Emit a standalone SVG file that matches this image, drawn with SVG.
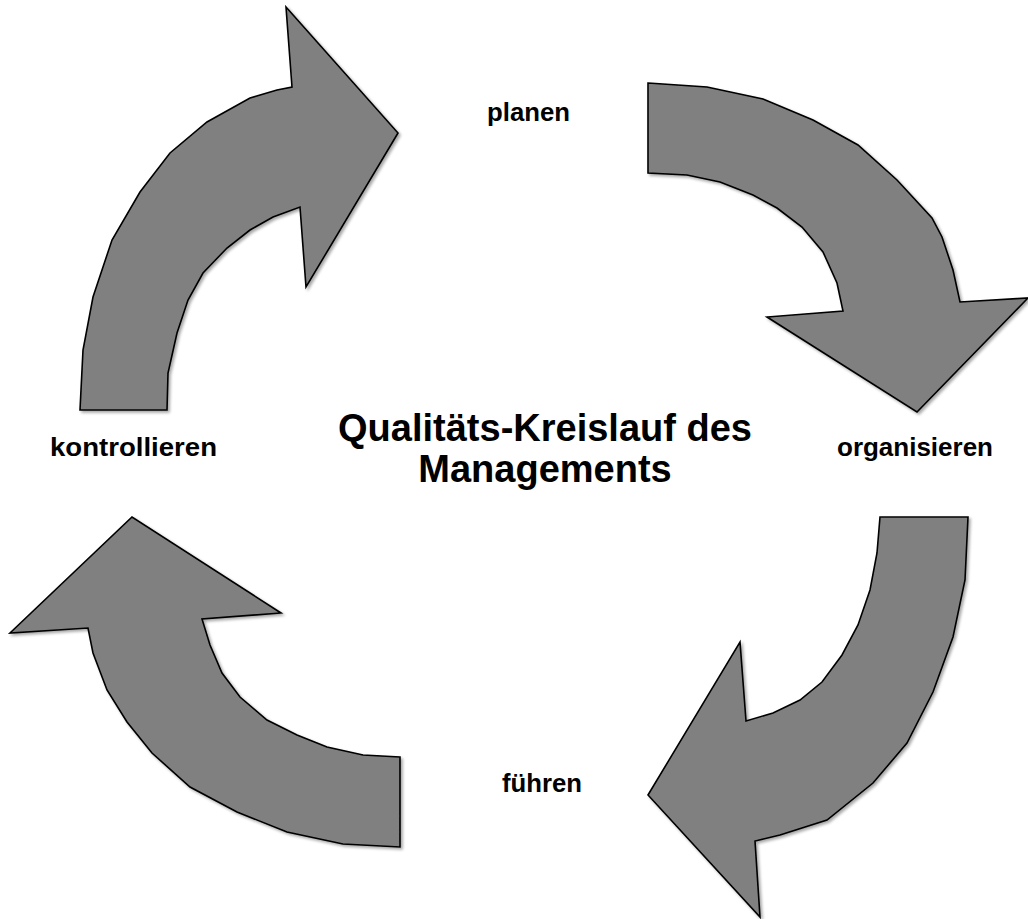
<svg xmlns="http://www.w3.org/2000/svg" width="1028" height="919" viewBox="0 0 1028 919">
  <defs>
    <filter id="soft-shadow" x="-10%" y="-10%" width="120%" height="120%">
      <feGaussianBlur in="SourceAlpha" stdDeviation="1.5"/>
      <feOffset dx="2" dy="2" result="blur"/>
      <feComponentTransfer><feFuncA type="linear" slope="0.35"/></feComponentTransfer>
      <feMerge><feMergeNode/><feMergeNode in="SourceGraphic"/></feMerge>
    </filter>
  </defs>
  <style>
    .arrow { fill: #808080; stroke: #000; stroke-width: 1.6; stroke-linejoin: miter; filter: url(#soft-shadow); }
    .label { font-family: "Liberation Sans", Arial, sans-serif; font-weight: bold; font-size: 26px; fill: #000; }
    .title { font-family: "Liberation Sans", Arial, sans-serif; font-weight: bold; font-size: 38px; fill: #000; text-anchor: middle; }
  </style>
  <rect width="1028" height="919" fill="#fff"/>

  <!-- curved arrows of the cycle -->
  <g id="connectors">
    <!-- kontrollieren -> planen -->
    <polygon class="arrow" points="80,410 83,350 93,297 112,240 140,192 170,153 207,122 250,98 277,90 292,87 286,7 398,133 306,287 300,207 273,217 250,230 227,248 203,273 188,300 177,333 168,373 167,410"/>
    <!-- planen -> organisieren -->
    <polygon class="arrow" points="648,83 707,87 763,99 813,120 858,145 897,180 932,218 942,237 953,270 960,302 1028,298 917,412 767,317 843,311 837,283 823,252 802,227 777,208 753,195 720,182 687,175 648,173"/>
    <!-- organisieren -> führen -->
    <polygon class="arrow" points="880,517 968,517 965,580 953,637 933,692 907,743 873,783 827,820 780,835 755,841 760,917 648,795 740,642 746,721 773,713 800,700 822,682 842,655 858,625 870,590 877,553"/>
    <!-- führen -> kontrollieren -->
    <polygon class="arrow" points="400,757 363,755 327,747 297,735 267,720 240,697 222,673 210,645 202,619 281,613 132,517 10,633 88,628 93,653 107,690 127,722 152,753 190,787 237,812 287,832 343,844 400,847"/>
  </g>

  <g id="node-planen">
    <text class="label" x="487" y="121" textLength="83" lengthAdjust="spacingAndGlyphs">planen</text>
  </g>
  <g id="node-organisieren">
    <text class="label" x="837" y="456" textLength="156" lengthAdjust="spacingAndGlyphs">organisieren</text>
  </g>
  <g id="node-fuehren">
    <text class="label" x="502" y="792" textLength="80" lengthAdjust="spacingAndGlyphs">führen</text>
  </g>
  <g id="node-kontrollieren">
    <text class="label" x="50" y="456" textLength="167" lengthAdjust="spacingAndGlyphs">kontrollieren</text>
  </g>
  <g id="node-title">
    <text class="title" x="545" y="441">Qualitäts-Kreislauf des</text>
    <text class="title" x="545" y="482">Managements</text>
  </g>
</svg>
